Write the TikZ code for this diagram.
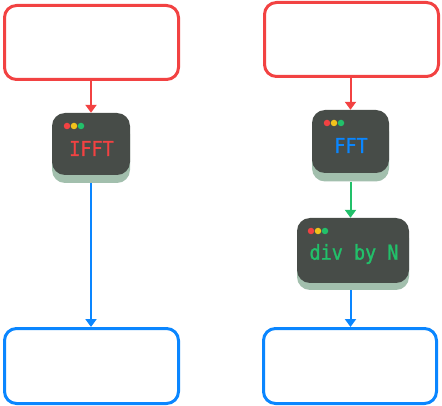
\documentclass[tikz,border=0pt]{standalone}
\usepackage{fontspec}
\newfontfamily\monofont[FakeStretch=0.9, FakeBold=1.2]{DejaVu Sans Mono}
\usetikzlibrary{arrows.meta}
\definecolor{cred}{HTML}{F24242}
\definecolor{cblue}{HTML}{0A86FF}
\definecolor{cgreen}{HTML}{22C06A}
\definecolor{cdark}{HTML}{474C48}
\definecolor{cshadow}{HTML}{A2BFAD}
\definecolor{cyellow}{HTML}{F2C21B}
\tikzset{
  iobox/.style={draw, line width=3pt, rounded corners=12pt, minimum height=74pt, inner sep=0pt},
  termbox/.style={fill=cdark, rounded corners=13pt, inner sep=0pt},
  shadowbox/.style={fill=cshadow, rounded corners=13pt, inner sep=0pt},
  termtext/.style={font=\monofont\fontsize{20.5pt}{22pt}\selectfont, inner sep=0pt},
  conn/.style={line width=2pt, -{Triangle[length=8pt,width=11pt]}},
  dot/.style={circle, inner sep=0pt, minimum size=6.5pt}
}
\begin{document}
\begin{tikzpicture}[x=1pt,y=-1pt]
\useasboundingbox (0,0) rectangle (442,406);
% top boxes
\node[iobox, draw=cred, minimum width=174pt] (tl) at (91.5,42.5) {};
\node[iobox, draw=cred, minimum width=174pt] (tr) at (351.5,39.5) {};
% bottom boxes
\node[iobox, draw=cblue, minimum width=174pt, minimum height=75pt] (bl) at (91.5,366) {};
\node[iobox, draw=cblue, minimum width=173pt, minimum height=75pt] (br) at (350,366) {};

% IFFT
\node[shadowbox, minimum width=78pt, minimum height=62pt] (ifftsh) at (91,152) {};
\node[termbox, minimum width=78pt, minimum height=62pt] (ifft) at (91,144) {};
\node[dot, fill=cred] (i1) at (67,126) {};
\node[dot, fill=cyellow] (i2) at (74,126) {};
\node[dot, fill=cgreen] (i3) at (81,126) {};
\node[termtext, text=cred] (ifftt) at (91.5,148.5) {IFFT};

% FFT
\node[shadowbox, minimum width=77pt, minimum height=63pt] (fftsh) at (350.5,150) {};
\node[termbox, minimum width=77pt, minimum height=63pt] (fft) at (350.5,141.5) {};
\node[dot, fill=cred] (f1) at (327,123) {};
\node[dot, fill=cyellow] (f2) at (334,123) {};
\node[dot, fill=cgreen] (f3) at (341,123) {};
\node[termtext, text=cblue] (fftt) at (351,145.5) {FFT};

% div by N
\node[shadowbox, minimum width=112pt, minimum height=65pt] (divsh) at (353,257.5) {};
\node[termbox, minimum width=112pt, minimum height=65pt] (div) at (353,250.5) {};
\node[dot, fill=cred] (d1) at (311,231) {};
\node[dot, fill=cyellow] (d2) at (318,231) {};
\node[dot, fill=cgreen] (d3) at (325,231) {};
\node[termtext, text=cgreen] (divt) at (354,254) {div by N};

% connectors
\draw[conn, cred] (tl.south -| ifft.north) -- (ifft.north);
\draw[conn, cblue] (ifftsh.south) -- (ifftsh.south |- bl.north);
\draw[conn, cred] (tr.south -| fft.north) -- (fft.north);
\draw[conn, cgreen] (fftsh.south) -- (fftsh.south |- div.north);
\draw[conn, cblue] (fftsh.south |- divsh.south) -- (fftsh.south |- br.north);
\end{tikzpicture}
\end{document}
